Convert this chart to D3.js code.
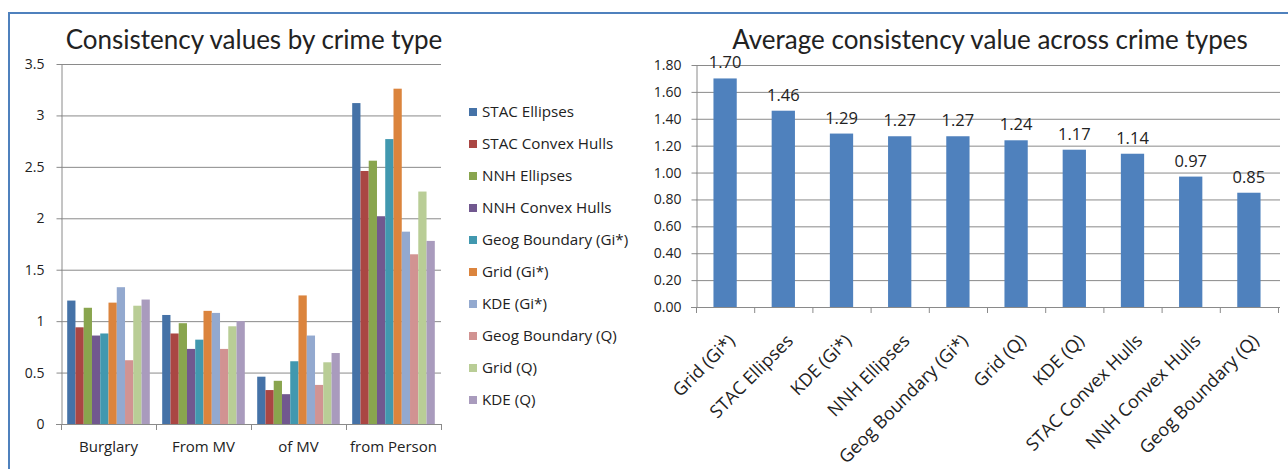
<!DOCTYPE html>
<html>
<head>
<meta charset="utf-8">
<script src="https://cdn.jsdelivr.net/npm/d3@7"></script>
<style>
  html, body { margin: 0; padding: 0; background: #fff; }
  svg { display: block; }
  text { font-family: "Open Sans", Lato, sans-serif; fill: #222; }
  text.title { font-family: Lato, "Open Sans", sans-serif; }
</style>
</head>
<body>
<svg id="chart" width="1288" height="469"></svg>
<script>
// Crime types (left chart categories)
const crimeTypes = ["Burglary", "From MV", "of MV", "from Person"];

// Hotspot methods (series), in legend order
const methods = [
  "STAC Ellipses", "STAC Convex Hulls", "NNH Ellipses", "NNH Convex Hulls",
  "Geog Boundary (Gi*)", "Grid (Gi*)", "KDE (Gi*)", "Geog Boundary (Q)",
  "Grid (Q)", "KDE (Q)"
];

// Consistency value per crime type, one array per method
const stacEllipses    = [1.20, 1.06, 0.46, 3.12];
const stacConvexHulls = [0.94, 0.88, 0.33, 2.46];
const nnhEllipses     = [1.13, 0.98, 0.42, 2.56];
const nnhConvexHulls  = [0.86, 0.73, 0.29, 2.02];
const geogBoundaryGi  = [0.88, 0.82, 0.61, 2.77];
const gridGi          = [1.18, 1.10, 1.25, 3.26];
const kdeGi           = [1.33, 1.08, 0.86, 1.87];
const geogBoundaryQ   = [0.62, 0.73, 0.38, 1.65];
const gridQ           = [1.15, 0.95, 0.60, 2.26];
const kdeQ            = [1.21, 1.00, 0.69, 1.78];

const methodColors = [
  "#4572A7", "#AA4643", "#89A54E", "#71588F", "#4198AF",
  "#DB843D", "#93A9CF", "#D19392", "#B9CD96", "#A99BBD"
];

const leftTicks = [0, 0.5, 1, 1.5, 2, 2.5, 3, 3.5];

// Average across crime types (right chart), sorted descending
const avgMethods = [
  "Grid (Gi*)", "STAC Ellipses", "KDE (Gi*)", "NNH Ellipses",
  "Geog Boundary (Gi*)", "Grid (Q)", "KDE (Q)", "STAC Convex Hulls",
  "NNH Convex Hulls", "Geog Boundary (Q)"
];
const avgValues = [1.70, 1.46, 1.29, 1.27, 1.27, 1.24, 1.17, 1.14, 0.97, 0.85];
const rightTicks = [0, 0.2, 0.4, 0.6, 0.8, 1.0, 1.2, 1.4, 1.6, 1.8];

const seriesValues = [
  stacEllipses, stacConvexHulls, nnhEllipses, nnhConvexHulls, geogBoundaryGi,
  gridGi, kdeGi, geogBoundaryQ, gridQ, kdeQ
];

const svg = d3.select("#chart");
const gridColor = "#8a8a8a";

// Frame lines
svg.append("line").attr("x1", 8).attr("x2", 1288).attr("y1", 13).attr("y2", 13)
  .attr("stroke", "#4F81BD").attr("stroke-width", 2);
svg.append("line").attr("x1", 9).attr("x2", 9).attr("y1", 12).attr("y2", 469)
  .attr("stroke", "#4F81BD").attr("stroke-width", 2);

/* ---------------- Left chart: grouped bars ---------------- */
const L = { left: 61, right: 441, top: 64, bottom: 424 };
const left = svg.append("g");

const yL = d3.scaleLinear().domain([0, 3.5]).range([L.bottom, L.top]);
const xL = d3.scaleBand().domain(crimeTypes).range([L.left, L.right]);
const xInner = d3.scaleBand().domain(methods).range([0, xL.bandwidth()])
  .paddingInner(0).paddingOuter(0.75);

left.append("text").attr("class", "title")
  .attr("x", 254).attr("y", 49)
  .attr("text-anchor", "middle").style("font-size", "26px")
  .text("Consistency values by crime type");

// gridlines
left.append("g").selectAll("line").data(leftTicks.slice(1)).join("line")
  .attr("x1", L.left).attr("x2", L.right)
  .attr("y1", d => yL(d) + 0.5).attr("y2", d => yL(d) + 0.5)
  .attr("stroke", gridColor).attr("stroke-width", 1);

// y axis
const yAxisL = left.append("g").attr("transform", `translate(${L.left + 0.5},0)`)
  .call(d3.axisLeft(yL).tickValues(leftTicks).tickFormat(d3.format("")).tickSize(5).tickPadding(12).tickSizeOuter(0));
yAxisL.select(".domain").attr("stroke", gridColor);
yAxisL.selectAll(".tick line").attr("stroke", gridColor);
yAxisL.selectAll("text").style("font-size", "14px").style("fill", "#222");

// bars
const groups = left.append("g").selectAll("g").data(crimeTypes).join("g")
  .attr("transform", d => `translate(${xL(d)},0)`);
groups.selectAll("rect")
  .data((c, ci) => methods.map((m, mi) => ({ m, mi, v: seriesValues[mi][ci] })))
  .join("rect")
  .attr("x", d => xInner(d.m))
  .attr("width", xInner.bandwidth())
  .attr("y", d => yL(d.v))
  .attr("height", d => yL(0) - yL(d.v))
  .attr("fill", d => methodColors[d.mi]);

// x axis
left.append("line").attr("x1", L.left - 5).attr("x2", L.right)
  .attr("y1", L.bottom + 0.5).attr("y2", L.bottom + 0.5).attr("stroke", gridColor);
const boundsL = crimeTypes.map(c => xL(c)).concat([L.right]);
left.append("g").selectAll("line").data(boundsL).join("line")
  .attr("x1", d => d + 0.5).attr("x2", d => d + 0.5)
  .attr("y1", L.bottom).attr("y2", L.bottom + 6).attr("stroke", gridColor);
const xAxisL = left.append("g").attr("transform", `translate(0,${L.bottom})`)
  .call(d3.axisBottom(xL).tickSize(0).tickPadding(17));
xAxisL.select(".domain").remove();
xAxisL.selectAll("text").style("font-size", "15px").style("fill", "#222");

// legend
const legend = svg.append("g").selectAll("g").data(methods).join("g")
  .attr("transform", (d, i) => `translate(469,${112 + i * 32})`);
legend.append("rect").attr("x", 0).attr("y", -4).attr("width", 8).attr("height", 8)
  .attr("fill", (d, i) => methodColors[i]);
legend.append("text").attr("x", 13).attr("y", 0).attr("dy", "0.35em")
  .style("font-size", "15.2px").text(d => d);

/* ---------------- Right chart: averages ---------------- */
const R = { left: 696, right: 1278, top: 65, bottom: 307 };
const right = svg.append("g");

const yR = d3.scaleLinear().domain([0, 1.8]).range([R.bottom, R.top]);
const xR = d3.scaleBand().domain(avgMethods).range([R.left, R.right])
  .paddingInner(0.6).paddingOuter(0.3);

right.append("text").attr("class", "title")
  .attr("x", 990).attr("y", 49)
  .attr("text-anchor", "middle").style("font-size", "26px")
  .text("Average consistency value across crime types");

right.append("g").selectAll("line").data(rightTicks.slice(1)).join("line")
  .attr("x1", R.left).attr("x2", R.right + 2)
  .attr("y1", d => yR(d) + 0.5).attr("y2", d => yR(d) + 0.5)
  .attr("stroke", gridColor);

const yAxisR = right.append("g").attr("transform", `translate(${R.left + 0.5},0)`)
  .call(d3.axisLeft(yR).tickValues(rightTicks).tickFormat(d3.format(".2f")).tickSize(5).tickPadding(10).tickSizeOuter(0));
yAxisR.select(".domain").attr("stroke", gridColor);
yAxisR.selectAll(".tick line").attr("stroke", gridColor);
yAxisR.selectAll("text").style("font-size", "14px").style("fill", "#222");

const avgByName = new Map(avgMethods.map((m, i) => [m, avgValues[i]]));

right.append("g").selectAll("rect").data(avgMethods).join("rect")
  .attr("x", d => xR(d))
  .attr("width", xR.bandwidth())
  .attr("y", d => yR(avgByName.get(d)))
  .attr("height", d => yR(0) - yR(avgByName.get(d)))
  .attr("fill", "#4F81BD");

right.append("g").selectAll("text").data(avgMethods).join("text")
  .attr("x", d => xR(d) + xR.bandwidth() / 2)
  .attr("y", d => yR(avgByName.get(d)) - 10)
  .attr("text-anchor", "middle").style("font-size", "16.5px")
  .text(d => d3.format(".2f")(avgByName.get(d)));

// x axis
right.append("line").attr("x1", R.left - 5).attr("x2", R.right + 2)
  .attr("y1", R.bottom + 0.5).attr("y2", R.bottom + 0.5).attr("stroke", gridColor);
const stepR = xR.step();
const boundsR = d3.range(avgMethods.length + 1).map(i => R.left + i * stepR);
right.append("g").selectAll("line").data(boundsR).join("line")
  .attr("x1", d => d + 0.5).attr("x2", d => d + 0.5)
  .attr("y1", R.bottom).attr("y2", R.bottom + 6).attr("stroke", gridColor);

right.append("g").selectAll("text").data(avgMethods).join("text")
  .attr("transform", d => `translate(${xR(d) + xR.bandwidth() / 2 + 11},${R.bottom + 35}) rotate(-45)`)
  .attr("text-anchor", "end")
  .style("font-size", "18px")
  .text(d => d);
</script>
</body>
</html>
